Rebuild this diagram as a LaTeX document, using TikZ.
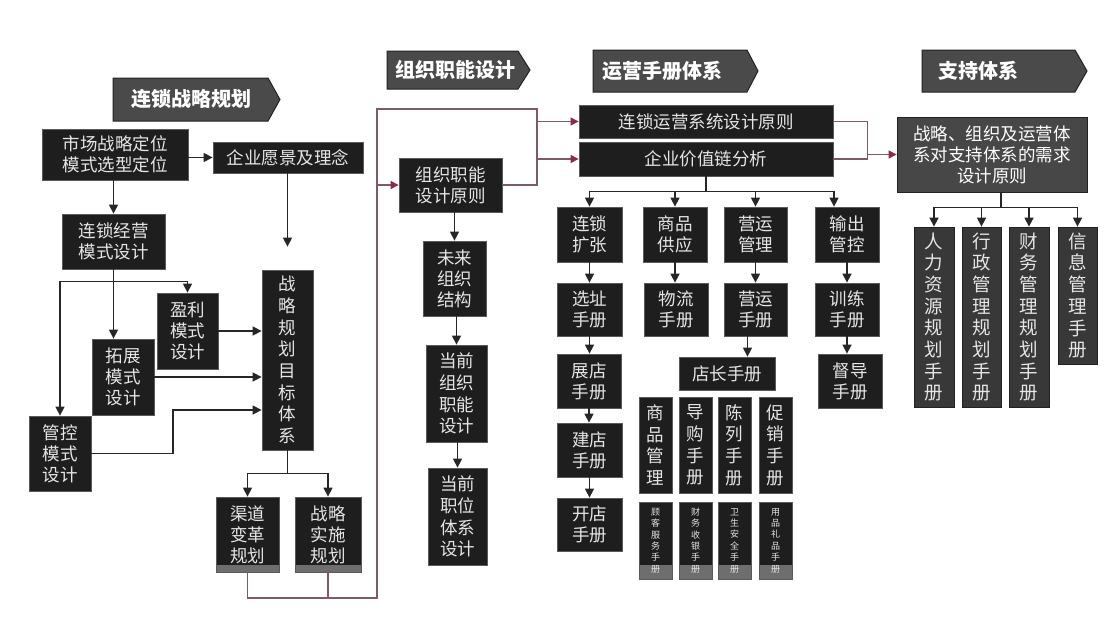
\documentclass[tikz,border=0pt]{standalone}
\usepackage{fontspec}
\newfontfamily\cjk{Noto Sans CJK SC}
\usetikzlibrary{arrows.meta,calc}
\definecolor{boxfill}{HTML}{1E1E1E}
\definecolor{boxline}{HTML}{5A5A5A}
\definecolor{boxtext}{HTML}{E6E6E6}
\definecolor{hdrfill}{HTML}{4A4A4A}
\definecolor{hdrline}{HTML}{222222}
\definecolor{supfill}{HTML}{474747}
\definecolor{supbox}{HTML}{383838}
\definecolor{loopline}{HTML}{7E5A66}
\definecolor{looptip}{HTML}{8E2A44}
\definecolor{bandcol}{HTML}{6E6E6E}
\newcommand\bx[7]{\node[#1, minimum width={#5-#3}, minimum height={#6-#4}] (#2) at ({(#3+#5)/2},{(#4+#6)/2}) {#7};}
\tikzset{
 bbox/.style={draw=boxline, line width=0.8pt, fill=boxfill, text=boxtext, inner sep=0pt, align=center, font=\cjk\fontsize{17.5}{21}\selectfont},
 vbox/.style={bbox, font=\cjk\fontsize{17.5}{21.7}\selectfont},
 banded/.style={path picture={\fill[bandcol] (path picture bounding box.south west) rectangle ([yshift=#1]path picture bounding box.south east);}},
 sbox/.style={bbox, font=\cjk\fontsize{9}{11.4}\selectfont, banded=14pt},
 supmain/.style={bbox, fill=supfill, draw=hdrline, text=white},
 supv/.style={bbox, fill=supbox, draw=hdrline, font=\cjk\fontsize{18.5}{21.7}\selectfont},
 hdr/.style={fill=hdrfill, draw=hdrline, line width=1pt},
 hdrtext/.style={text=white, font=\cjk\bfseries\fontsize{20}{24}\selectfont, inner sep=0pt, anchor=west},
 arr/.style={line width=1.5pt, draw=black!85, -{Triangle[length=9pt,width=9pt]}},
 ln/.style={line width=1.5pt, draw=black!85},
 mln/.style={line width=1.2pt, draw=loopline},
 marr/.style={mln, -{Triangle[length=8pt,width=8pt,color=looptip]}},
}
\begin{document}
\begin{tikzpicture}[x=1pt,y=-1pt]
\useasboundingbox[fill=white] (0,0) rectangle (1108,629);
% headers
\draw[hdr] (113,78) -- (268,78) -- (280,99.5) -- (268,121) -- (113,121) -- cycle;
\node[hdrtext] (h1) at (131,99.5) {连锁战略规划};
\draw[hdr] (387,51) -- (518,51) -- (530,70) -- (518,89) -- (387,89) -- cycle;
\node[hdrtext] (h2) at (395,70) {组织职能设计};
\draw[hdr] (593,50) -- (747,50) -- (758,71) -- (747,92) -- (593,92) -- cycle;
\node[hdrtext] (h3) at (602,71) {运营手册体系};
\draw[hdr] (922,50) -- (1075,50) -- (1087,71) -- (1075,92) -- (922,92) -- cycle;
\node[hdrtext] (h4) at (938,71) {支持体系};
% strategy column
\bx{bbox}{a}{42}{129}{188}{180}{市场战略定位\\模式选型定位}
\bx{bbox}{b}{213}{142}{363}{173}{企业愿景及理念}
\bx{bbox}{c}{62}{214}{165}{269}{连锁经营\\模式设计}
\bx{bbox}{f}{157}{293}{218}{369}{盈利\\模式\\设计}
\bx{bbox}{d}{92}{339}{154}{415}{拓展\\模式\\设计}
\bx{bbox}{e}{29}{416}{91}{491}{管控\\模式\\设计}
\bx{vbox}{t}{262}{270}{313}{450}{战\\略\\规\\划\\目\\标\\体\\系}
\bx{bbox,banded=7pt}{g}{216}{497}{279}{572}{渠道\\变革\\规划}
\bx{bbox,banded=7pt}{h}{295}{497}{361}{572}{战略\\实施\\规划}
% organisation column
\bx{bbox}{o1}{399}{158}{502}{212}{组织职能\\设计原则}
\bx{bbox}{o2}{423}{241}{486}{316}{未来\\组织\\结构}
\bx{vbox}{o3}{426}{345}{487}{442}{当前\\组织\\职能\\设计}
\bx{vbox}{o4}{428}{468}{487}{565}{当前\\职位\\体系\\设计}
% operations
\bx{bbox}{r1}{579}{105}{833}{138}{连锁运营系统设计原则}
\bx{bbox}{r2}{579}{142}{833}{176}{企业价值链分析}
\bx{bbox}{p1}{557}{207}{622}{262}{连锁\\扩张}
\bx{bbox}{p2}{643}{207}{707}{262}{商品\\供应}
\bx{bbox}{p3}{724}{207}{787}{262}{营运\\管理}
\bx{bbox}{p4}{815}{207}{879}{262}{输出\\管控}
\bx{bbox}{q1}{557}{283}{622}{336}{选址\\手册}
\bx{bbox}{q2}{644}{283}{708}{336}{物流\\手册}
\bx{bbox}{q3}{724}{283}{787}{336}{营运\\手册}
\bx{bbox}{q4}{815}{283}{879}{336}{训练\\手册}
\bx{bbox}{q5}{557}{354}{621}{408}{展店\\手册}
\bx{bbox}{q6}{557}{423}{622}{477}{建店\\手册}
\bx{bbox}{q7}{557}{498}{622}{551}{开店\\手册}
\bx{bbox}{q8}{818}{354}{882}{408}{督导\\手册}
\bx{bbox}{m}{679}{357}{775}{390}{店长手册}
\bx{vbox}{v1}{639}{397}{672}{493}{商\\品\\管\\理}
\bx{vbox}{v2}{679}{397}{712}{493}{导\\购\\手\\册}
\bx{vbox}{v3}{718}{397}{751}{493}{陈\\列\\手\\册}
\bx{vbox}{v4}{759}{397}{792}{493}{促\\销\\手\\册}
\bx{sbox}{w1}{639}{502}{672}{579}{顾\\客\\服\\务\\手\\册}
\bx{sbox}{w2}{679}{502}{712}{579}{财\\务\\收\\银\\手\\册}
\bx{sbox}{w3}{718}{502}{751}{579}{卫\\生\\安\\全\\手\\册}
\bx{sbox}{w4}{759}{502}{792}{579}{用\\品\\礼\\品\\手\\册}
% support
\bx{supmain}{s}{897}{117}{1087}{192}{战略、组织及运营体\\系对支持体系的需求\\设计原则}
\bx{supv}{u1}{914}{227}{954}{407}{人\\力\\资\\源\\规\\划\\手\\册}
\bx{supv}{u2}{962}{227}{1001}{407}{行\\政\\管\\理\\规\\划\\手\\册}
\bx{supv}{u3}{1009}{227}{1049}{407}{财\\务\\管\\理\\规\\划\\手\\册}
\bx{supv}{u4}{1058}{227}{1097}{364}{信\\息\\管\\理\\手\\册}
% strategy connectors
\draw[arr] (a.east |- b.west) -- (b.west);
\draw[arr] (a.south -| c.north) -- (c.north);
\draw[arr, shorten >=23pt] (b.south -| t.north) -- (t.north);
\draw[arr] (c.south) -- (c.south |- d.north);
\coordinate (cj) at ($(c.south)+(0,12)$);
\draw[ln] (e.north |- cj) -- (f.north |- cj);
\draw[arr] (e.north |- cj) -- (e.north);
\draw[arr] (f.north |- cj) -- (f.north);
\draw[arr] (f.east) -- (f.east -| t.west);
\draw[arr] (d.east) -- (d.east -| t.west);
\coordinate (k1) at (173,410);
\draw[arr] (e.east) -| (k1) -- (k1 -| t.west);
\coordinate (tj) at ($(t.south)+(0,23)$);
\draw[ln] (t.south) -- (tj);
\draw[ln] (g.north |- tj) -- (h.north |- tj);
\draw[arr] (g.north |- tj) -- (g.north);
\draw[arr] (h.north |- tj) -- (h.north);
% loop to organisation / operations
\coordinate (L1) at (377,598);
\coordinate (L2) at (377,109);
\coordinate (L3) at (537,109);
\draw[mln] (g.south) |- (L1) -- (L2) -- (L3) -- (L3 |- o1.east) -- (o1.east);
\draw[mln] (h.south) -- (h.south |- L1);
\draw[marr] (L1 |- o1.west) -- (o1.west);
\draw[marr] (L3 |- r1.west) -- (r1.west);
\draw[marr] (L3 |- r2.west) -- (r2.west);
% organisation chain
\draw[arr] (o1.south -| o2.north) -- (o2.north);
\draw[arr] (o2.south -| o3.north) -- (o3.north);
\draw[arr] (o3.south -| o4.north) -- (o4.north);
% to support
\draw[mln] (r1.east) -- ++(34,0) coordinate (R1) |- (r2.east);
\draw[marr] (R1 |- s.west) -- (s.west);
% value chain
\coordinate (vj) at ($(r2.south)+(0,15)$);
\coordinate (p4t) at ($(p4.north)+(-13,0)$);
\draw[ln] (r2.south) -- (vj);
\draw[ln] (vj -| p1.north) -- (vj -| p4t);
\draw[arr] (vj -| p1.north) -- (p1.north);
\draw[arr] (vj -| p2.north) -- (p2.north);
\draw[arr] (vj -| p3.north) -- (p3.north);
\draw[arr] (vj -| p4t) -- (p4t);
\draw[arr] (p1.south) -- (p1.south |- q1.north);
\draw[arr] (p2.south) -- (p2.south |- q2.north);
\draw[arr] (p3.south) -- (p3.south |- q3.north);
\draw[arr] (p4.south) -- (p4.south |- q4.north);
\draw[arr] (q1.south) -- (q1.south |- q5.north);
\draw[arr] (q5.south) -- (q5.south |- q6.north);
\draw[arr] (q6.south) -- (q6.south |- q7.north);
\draw[arr] (q4.south) -- (q4.south |- q8.north);
\draw[arr] ([xshift=-8pt]q3.south) -- ([xshift=-8pt]q3.south |- m.north);
% support branches
\coordinate (sj) at ($(s.south)+(9,15)$);
\draw[ln] ([xshift=9pt]s.south) -- (sj);
\draw[ln] (sj -| u1.north) -- (sj -| u4.north);
\draw[arr] (sj -| u1.north) -- (u1.north);
\draw[arr] (sj -| u2.north) -- (u2.north);
\draw[arr] (sj -| u3.north) -- (u3.north);
\draw[arr] (sj -| u4.north) -- (u4.north);
\end{tikzpicture}
\end{document}
